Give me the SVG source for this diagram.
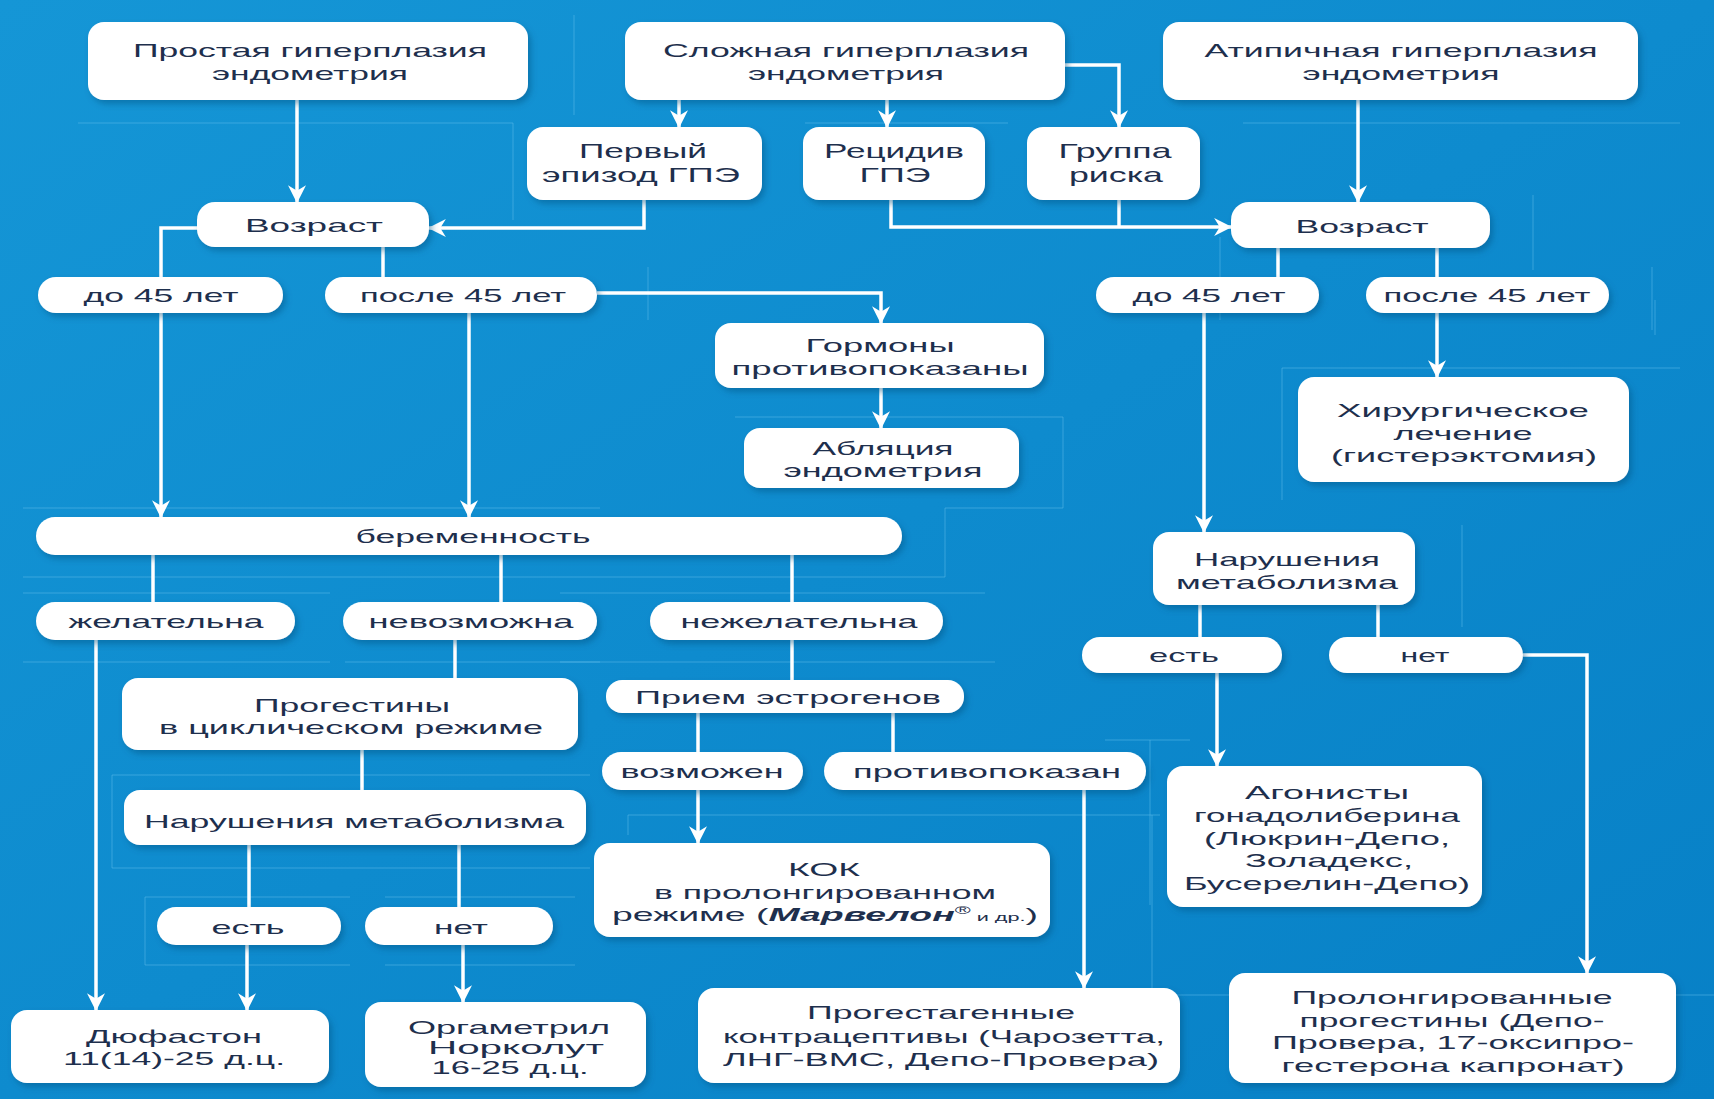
<svg xmlns="http://www.w3.org/2000/svg" width="1714" height="1099" viewBox="0 0 1714 1099">
<defs>
  <linearGradient id="bg" x1="0" y1="0" x2="1" y2="1">
    <stop offset="0" stop-color="#1596d6"/>
    <stop offset="1" stop-color="#0780c6"/>
  </linearGradient>
  <filter id="sh" x="-10%" y="-20%" width="130%" height="160%">
    <feDropShadow dx="3" dy="4" stdDeviation="3" flood-color="#08507f" flood-opacity="0.45"/>
  </filter>
  <marker id="ah" markerUnits="userSpaceOnUse" markerWidth="18" markerHeight="18" viewBox="0 0 16 16" refX="15" refY="8" orient="auto">
    <path d="M0,0 L16,8 L0,16 L5,8 z" fill="#ffffff"/>
  </marker>
  <style>
    .box { fill: #ffffff; filter: url(#sh); }
    .t { font-family: "Liberation Sans", Arial, sans-serif; font-size: 19px; fill: #1e2f4d; text-anchor: middle; }
    .tb { font-size: 21px; }
    .c { fill: none; stroke: #ffffff; stroke-width: 3.5; }
    .ca { fill: none; stroke: #ffffff; stroke-width: 3.5; marker-end: url(#ah); }
    .d { fill: none; stroke: #5dbbea; stroke-width: 1; opacity: 0.55; }
  </style>
</defs>
<rect x="0" y="0" width="1714" height="1099" fill="url(#bg)"/>

<g id="decor">
  <path class="d" d="M78,123 H513 V220 M574,15 V115 M805,123 H1008 M648,267 V320 M1243,123 H1680 M1533,195 V270 M1220,237 V320 M1652,267 V330"/>
  <path class="d" d="M23,508 H600 M23,577 H600 M23,593 H330 M23,662 H330 M345,662 H600 M735,417 H1063 V508 H945 V577 H600 M560,593 H985 M560,662 H995"/>
  <path class="d" d="M1282,368 H1680 M1282,368 V500 M1462,525 V627 M1655,300 V335 M112,775 H590 M112,775 V868 H590 M145,897 H350 M145,897 V965 H350 M385,897 H575 M385,965 H575 M628,815 H1160 M628,815 V835 M1152,815 V990 M1105,740 H1190 M1150,740 V905 M1095,995 H1714"/>
</g>

<g id="connectors">
  <path class="ca" d="M297,100 V202"/>
  <path class="ca" d="M679,100 V127"/>
  <path class="ca" d="M887,100 V127"/>
  <path class="ca" d="M1065,65 H1119 V127"/>
  <path class="ca" d="M644,200 V228 H429"/>
  <path class="ca" d="M891,200 V227 H1231"/>
  <path class="c" d="M1119,200 V227"/>
  <path class="ca" d="M1358,100 V202"/>
  <path class="c" d="M197,228 H161 V277"/>
  <path class="c" d="M383,247 V277"/>
  <path class="c" d="M1278,248 V277"/>
  <path class="c" d="M1437,248 V277"/>
  <path class="ca" d="M597,293 H881 V323"/>
  <path class="ca" d="M881,388 V428"/>
  <path class="ca" d="M161,313 V517"/>
  <path class="ca" d="M469,313 V517"/>
  <path class="c" d="M153,555 V602"/>
  <path class="c" d="M501,555 V602"/>
  <path class="c" d="M792,555 V602"/>
  <path class="ca" d="M96,640 V1010"/>
  <path class="c" d="M455,640 V678"/>
  <path class="c" d="M362,750 V790"/>
  <path class="c" d="M249,845 V907"/>
  <path class="c" d="M459,845 V907"/>
  <path class="ca" d="M247,945 V1010"/>
  <path class="ca" d="M463,945 V1002"/>
  <path class="c" d="M792,640 V680"/>
  <path class="c" d="M698,713 V752"/>
  <path class="c" d="M893,713 V752"/>
  <path class="ca" d="M698,790 V843"/>
  <path class="ca" d="M1084,790 V988"/>
  <path class="ca" d="M1204,313 V532"/>
  <path class="ca" d="M1437,313 V377"/>
  <path class="c" d="M1200,605 V637"/>
  <path class="c" d="M1378,605 V637"/>
  <path class="ca" d="M1217,673 V766"/>
  <path class="ca" d="M1523,655 H1587 V973"/>
</g>

<g id="n1"><rect class="box" x="88" y="22" width="440" height="78" rx="16"/>
  <text class="t" x="310" y="57" textLength="354" lengthAdjust="spacingAndGlyphs">Простая гиперплазия</text>
  <text class="t" x="310" y="80" textLength="196" lengthAdjust="spacingAndGlyphs">эндометрия</text></g>
<g id="n2"><rect class="box" x="625" y="22" width="440" height="78" rx="16"/>
  <text class="t" x="846" y="57" textLength="366" lengthAdjust="spacingAndGlyphs">Сложная гиперплазия</text>
  <text class="t" x="846" y="80" textLength="196" lengthAdjust="spacingAndGlyphs">эндометрия</text></g>
<g id="n3"><rect class="box" x="1163" y="22" width="475" height="78" rx="16"/>
  <text class="t" x="1401" y="57" textLength="393" lengthAdjust="spacingAndGlyphs">Атипичная гиперплазия</text>
  <text class="t" x="1401" y="80" textLength="197" lengthAdjust="spacingAndGlyphs">эндометрия</text></g>
<g id="n4"><rect class="box" x="527" y="127" width="235" height="73" rx="16"/>
  <text class="t tb" x="643" y="158" textLength="128" lengthAdjust="spacingAndGlyphs">Первый</text>
  <text class="t tb" x="641" y="182" textLength="198" lengthAdjust="spacingAndGlyphs">эпизод ГПЭ</text></g>
<g id="n5"><rect class="box" x="803" y="127" width="182" height="73" rx="16"/>
  <text class="t tb" x="894" y="158" textLength="140" lengthAdjust="spacingAndGlyphs">Рецидив</text>
  <text class="t tb" x="895" y="182" textLength="71" lengthAdjust="spacingAndGlyphs">ГПЭ</text></g>
<g id="n6"><rect class="box" x="1027" y="127" width="173" height="73" rx="16"/>
  <text class="t tb" x="1115" y="158" textLength="113" lengthAdjust="spacingAndGlyphs">Группа</text>
  <text class="t tb" x="1116" y="182" textLength="94" lengthAdjust="spacingAndGlyphs">риска</text></g>
<g id="n7"><rect class="box" x="197" y="202" width="232" height="45" rx="18"/>
  <text class="t" x="314" y="232" textLength="138" lengthAdjust="spacingAndGlyphs">Возраст</text></g>
<g id="n8"><rect class="box" x="1231" y="202" width="259" height="46" rx="18"/>
  <text class="t" x="1362" y="233" textLength="133" lengthAdjust="spacingAndGlyphs">Возраст</text></g>
<g id="n9"><rect class="box" x="38" y="277" width="245" height="36" rx="18"/>
  <text class="t" x="161" y="302" textLength="155" lengthAdjust="spacingAndGlyphs">до 45 лет</text></g>
<g id="n10"><rect class="box" x="325" y="277" width="272" height="36" rx="18"/>
  <text class="t" x="463" y="302" textLength="206" lengthAdjust="spacingAndGlyphs">после 45 лет</text></g>
<g id="n11"><rect class="box" x="1096" y="277" width="223" height="36" rx="18"/>
  <text class="t" x="1209" y="302" textLength="153" lengthAdjust="spacingAndGlyphs">до 45 лет</text></g>
<g id="n12"><rect class="box" x="1366" y="277" width="243" height="36" rx="18"/>
  <text class="t" x="1487" y="302" textLength="207" lengthAdjust="spacingAndGlyphs">после 45 лет</text></g>
<g id="n13"><rect class="box" x="715" y="323" width="329" height="65" rx="16"/>
  <text class="t" x="880" y="352" textLength="149" lengthAdjust="spacingAndGlyphs">Гормоны</text>
  <text class="t" x="880" y="375" textLength="297" lengthAdjust="spacingAndGlyphs">противопоказаны</text></g>
<g id="n14"><rect class="box" x="744" y="428" width="275" height="60" rx="16"/>
  <text class="t" x="883" y="455" textLength="141" lengthAdjust="spacingAndGlyphs">Абляция</text>
  <text class="t" x="883" y="477" textLength="199" lengthAdjust="spacingAndGlyphs">эндометрия</text></g>
<g id="n15"><rect class="box" x="1298" y="377" width="331" height="105" rx="16"/>
  <text class="t" x="1463" y="417" textLength="252" lengthAdjust="spacingAndGlyphs">Хирургическое</text>
  <text class="t" x="1463" y="440" textLength="139" lengthAdjust="spacingAndGlyphs">лечение</text>
  <text class="t" x="1464" y="462" textLength="266" lengthAdjust="spacingAndGlyphs">(гистерэктомия)</text></g>
<g id="n16"><rect class="box" x="36" y="517" width="866" height="38" rx="19"/>
  <text class="t" x="473" y="543" textLength="235" lengthAdjust="spacingAndGlyphs">беременность</text></g>
<g id="n17"><rect class="box" x="36" y="602" width="259" height="38" rx="19"/>
  <text class="t" x="166" y="628" textLength="195" lengthAdjust="spacingAndGlyphs">желательна</text></g>
<g id="n18"><rect class="box" x="343" y="602" width="254" height="38" rx="19"/>
  <text class="t" x="471" y="628" textLength="205" lengthAdjust="spacingAndGlyphs">невозможна</text></g>
<g id="n19"><rect class="box" x="650" y="602" width="293" height="38" rx="19"/>
  <text class="t" x="799" y="628" textLength="237" lengthAdjust="spacingAndGlyphs">нежелательна</text></g>
<g id="n20"><rect class="box" x="1153" y="532" width="262" height="73" rx="16"/>
  <text class="t" x="1287" y="566" textLength="186" lengthAdjust="spacingAndGlyphs">Нарушения</text>
  <text class="t" x="1287" y="589" textLength="222" lengthAdjust="spacingAndGlyphs">метаболизма</text></g>
<g id="n21"><rect class="box" x="1082" y="637" width="200" height="36" rx="18"/>
  <text class="t" x="1184" y="662" textLength="70" lengthAdjust="spacingAndGlyphs">есть</text></g>
<g id="n22"><rect class="box" x="1329" y="637" width="194" height="36" rx="18"/>
  <text class="t" x="1425" y="662" textLength="49" lengthAdjust="spacingAndGlyphs">нет</text></g>
<g id="n23"><rect class="box" x="122" y="678" width="456" height="72" rx="16"/>
  <text class="t" x="352" y="712" textLength="196" lengthAdjust="spacingAndGlyphs">Прогестины</text>
  <text class="t" x="351" y="734" textLength="384" lengthAdjust="spacingAndGlyphs">в циклическом режиме</text></g>
<g id="n24"><rect class="box" x="606" y="680" width="358" height="33" rx="16"/>
  <text class="t" x="788" y="704" textLength="306" lengthAdjust="spacingAndGlyphs">Прием эстрогенов</text></g>
<g id="n25"><rect class="box" x="602" y="752" width="201" height="38" rx="19"/>
  <text class="t" x="702" y="778" textLength="163" lengthAdjust="spacingAndGlyphs">возможен</text></g>
<g id="n26"><rect class="box" x="824" y="752" width="322" height="38" rx="19"/>
  <text class="t" x="987" y="778" textLength="268" lengthAdjust="spacingAndGlyphs">противопоказан</text></g>
<g id="n27"><rect class="box" x="124" y="790" width="462" height="55" rx="16"/>
  <text class="t" x="354" y="828" textLength="420" lengthAdjust="spacingAndGlyphs">Нарушения метаболизма</text></g>
<g id="n28"><rect class="box" x="594" y="843" width="456" height="94" rx="16"/>
  <text class="t" x="824" y="876" textLength="72" lengthAdjust="spacingAndGlyphs">КОК</text>
  <text class="t" x="825" y="899" textLength="342" lengthAdjust="spacingAndGlyphs">в пролонгированном</text>
  <text class="t" x="825" y="921" textLength="426" lengthAdjust="spacingAndGlyphs">режиме (<tspan font-style="italic" font-weight="bold">Марвелон</tspan><tspan font-size="11" dy="-7">®</tspan><tspan font-size="11" dy="7"> и др.</tspan>)</text></g>
<g id="n29"><rect class="box" x="1167" y="766" width="315" height="141" rx="16"/>
  <text class="t" x="1327" y="799" textLength="164" lengthAdjust="spacingAndGlyphs">Агонисты</text>
  <text class="t" x="1327" y="822" textLength="266" lengthAdjust="spacingAndGlyphs">гонадолиберина</text>
  <text class="t" x="1327" y="845" textLength="246" lengthAdjust="spacingAndGlyphs">(Люкрин-Депо,</text>
  <text class="t" x="1329" y="867" textLength="168" lengthAdjust="spacingAndGlyphs">Золадекс,</text>
  <text class="t" x="1327" y="890" textLength="286" lengthAdjust="spacingAndGlyphs">Бусерелин-Депо)</text></g>
<g id="n30"><rect class="box" x="157" y="907" width="184" height="38" rx="19"/>
  <text class="t" x="248" y="934" textLength="73" lengthAdjust="spacingAndGlyphs">есть</text></g>
<g id="n31"><rect class="box" x="365" y="907" width="188" height="38" rx="19"/>
  <text class="t" x="461" y="934" textLength="54" lengthAdjust="spacingAndGlyphs">нет</text></g>
<g id="n32"><rect class="box" x="11" y="1010" width="318" height="73" rx="16"/>
  <text class="t" x="174" y="1043" textLength="176" lengthAdjust="spacingAndGlyphs">Дюфастон</text>
  <text class="t" x="174" y="1065" textLength="222" lengthAdjust="spacingAndGlyphs">11(14)-25 д.ц.</text></g>
<g id="n33"><rect class="box" x="365" y="1002" width="281" height="85" rx="16"/>
  <text class="t" x="509" y="1034" textLength="202" lengthAdjust="spacingAndGlyphs">Оргаметрил</text>
  <text class="t" x="516" y="1054" textLength="176" lengthAdjust="spacingAndGlyphs">Норколут</text>
  <text class="t" x="510" y="1074" textLength="157" lengthAdjust="spacingAndGlyphs">16-25 д.ц.</text></g>
<g id="n34"><rect class="box" x="698" y="988" width="482" height="95" rx="16"/>
  <text class="t" x="941" y="1019" textLength="268" lengthAdjust="spacingAndGlyphs">Прогестагенные</text>
  <text class="t" x="944" y="1043" textLength="442" lengthAdjust="spacingAndGlyphs">контрацептивы (Чарозетта,</text>
  <text class="t" x="941" y="1066" textLength="436" lengthAdjust="spacingAndGlyphs">ЛНГ-ВМС, Депо-Провера)</text></g>
<g id="n35"><rect class="box" x="1229" y="973" width="447" height="110" rx="16"/>
  <text class="t" x="1452" y="1004" textLength="321" lengthAdjust="spacingAndGlyphs">Пролонгированные</text>
  <text class="t" x="1452" y="1027" textLength="305" lengthAdjust="spacingAndGlyphs">прогестины (Депо-</text>
  <text class="t" x="1453" y="1049" textLength="362" lengthAdjust="spacingAndGlyphs">Провера, 17-оксипро-</text>
  <text class="t" x="1453" y="1072" textLength="343" lengthAdjust="spacingAndGlyphs">гестерона капронат)</text></g>
</svg>
